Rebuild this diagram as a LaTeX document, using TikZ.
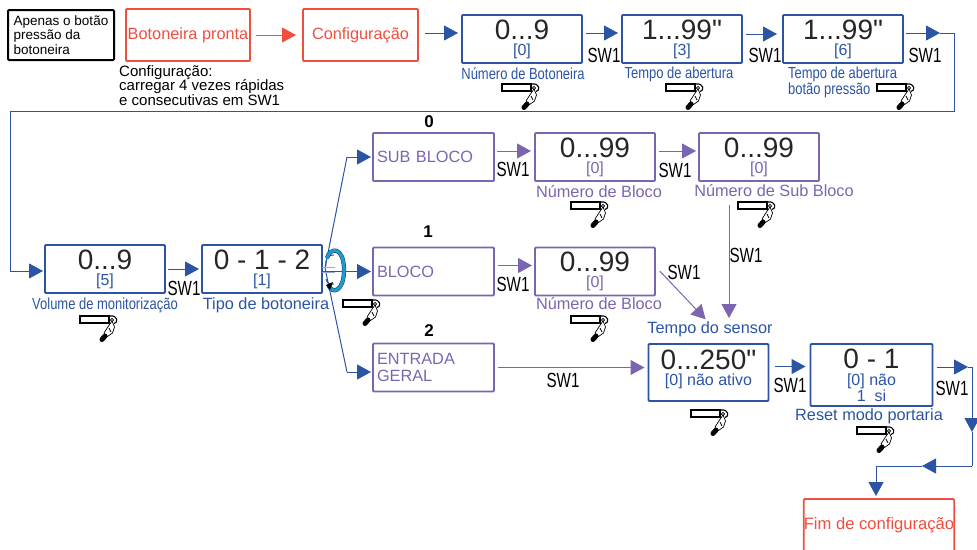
\documentclass[tikz,border=0pt]{standalone}
\usepackage{fontspec}
\setmainfont{Liberation Sans}
\usetikzlibrary{arrows.meta,positioning}

\definecolor{bluec}{HTML}{2B54A5}
\definecolor{redc}{HTML}{F04E3E}
\definecolor{purplec}{HTML}{7C65B0}
\definecolor{cyanc}{HTML}{1C9AD6}

\newcommand{\cond}[1]{\scalebox{0.81}[1]{#1}}
\newcommand{\swtxt}{\scalebox{0.74}[1]{SW1}}
\newcommand{\bignum}[1]{{\fontsize{28}{26}\selectfont\textcolor{black!85}{#1}}}

\tikzset{
  boxbase/.style={draw,rectangle,rounded corners=1pt,line width=1.8pt,outer sep=0pt,inner sep=3pt,align=center},
  bluebox/.style={boxbase,draw=bluec,text=bluec,minimum width=120pt,minimum height=48pt,font=\fontsize{16}{16}\selectfont},
  purplebox/.style={boxbase,draw=purplec,text=purplec,minimum width=120pt,minimum height=48pt,font=\fontsize{16}{16}\selectfont},
  subbox/.style={purplebox,align=left,text width=113pt,inner sep=4pt,font=\fontsize{16.3}{17}\selectfont},
  redbox/.style={boxbase,draw=redc,text=redc,inner sep=0pt,font=\fontsize{16.3}{16.3}\selectfont},
  caption/.style={inner sep=0pt,font=\fontsize{16}{16}\selectfont},
  capwide/.style={inner sep=0pt,font=\fontsize{16.3}{16.3}\selectfont},
  capblue/.style={caption,text=bluec},
  cappurple/.style={capwide,text=purplec},
  sw/.style={inner sep=0pt,font=\fontsize{20.5}{20.5}\selectfont},
  digit/.style={inner sep=0pt,font=\fontsize{17}{17}\bfseries\selectfont},
  flowb/.style={draw=bluec,line width=1pt,-{Triangle[length=14pt,width=15pt]}},
  flowp/.style={draw=purplec,line width=1pt,-{Triangle[length=14pt,width=15pt]}},
  flowr/.style={draw=redc,line width=1pt,-{Triangle[length=14pt,width=15pt]}},
  plainb/.style={draw=bluec,line width=1pt},
  botao/.pic={
    \draw[black,line width=1.1pt,fill=white] (0,0) rectangle (29,7);
    \draw[black,line width=1.1pt] (30,0) .. controls (38,-1) and (38.5,7) .. (34,7.5);
    \draw[black,line width=.7pt,fill=white] (32,5) -- (34.5,11) -- (32.5,17) -- (27.5,20.5) -- (24,17) -- (28.5,10) -- cycle;
    \draw[black,line width=.7pt] (29,12) -- (31,16) (32,4) circle (1.6);
    \draw[black,line width=5pt,line cap=round] (25,20) -- (22,23.5);
  }
}

\begin{document}
\begin{tikzpicture}[x=1pt,y=-1pt]
\useasboundingbox (0,0) rectangle (977,549);
\clip (0,0) rectangle (977,549);

% Top row
\node[boxbase,draw=black,align=left,minimum width=106pt,minimum height=50pt,line width=2pt,inner sep=0pt,font=\fontsize{13.5}{14.2}\selectfont] (apenas) at (61,35) {Apenas o botão\\pressão da\\botoneira\hspace*{32pt}};
\node[redbox,minimum width=124pt,minimum height=52pt] (pronta) at (188,35) {Botoneira pronta};
\node[redbox,minimum width=115pt,minimum height=52pt,right=53pt of pronta] (config) {Configuração};
\node[capwide,align=left,anchor=north west,font=\fontsize{15}{14.7}\selectfont] (nota) at (119,65) {Configuração:\\carregar 4 vezes rápidas\\e consecutivas em SW1};

\node[bluebox] (numbot) at (522,39) {\bignum{0...9}\\{[}0{]}};
\node[bluebox,right=40pt of numbot] (tempo) {\bignum{1...99\textquotedbl}\\{[}3{]}};
\node[bluebox,right=41pt of tempo] (tempob) {\bignum{1...99\textquotedbl}\\{[}6{]}};

\node[capblue] (capnum) at (523,74) {\cond{Número de Botoneira}};
\node[capblue] (captempo) at (679,74) {\cond{Tempo de abertura}};
\node[capblue,align=left,anchor=north west] (captempob) at (788,67) {\cond{Tempo de abertura}\\\cond{botão pressão}};

\draw[flowr,shorten <=6pt,shorten >=7pt] (pronta) -- (config);
\draw[flowb,shorten <=7pt,shorten >=4pt] (config.east |- 0,33) -- (numbot.west |- 0,33);
\draw[flowb,shorten <=4pt,shorten >=4pt] ([yshift=6pt]numbot.east) -- ([yshift=6pt]tempo.west);
\draw[flowb,shorten <=4pt,shorten >=6pt] ([yshift=5pt]tempo.east) -- ([yshift=5pt]tempob.west);

\node[sw] (sw1) at (604,55) {\swtxt};
\node[sw] (sw2) at (765,55) {\swtxt};
\node[sw] (sw3) at (925,55) {\swtxt};

% Second row
\node[bluebox] (volume) at (105,269) {\bignum{0...9}\\{[}5{]}};
\node[bluebox,right=37pt of volume] (tipo) {\bignum{0 - 1 - 2}\\{[}1{]}};
\node[capblue] (capvol) at (105,305) {\cond{Volume de monitorização}};
\node[capwide,text=bluec] (captipo) at (266,305) {Tipo de botoneira};
\node[sw] (sw4) at (184,288) {\swtxt};

\coordinate (c1) at (954,33);
\coordinate (c2) at (954,111);
\coordinate (c3) at (10,111);
\coordinate (c4) at (10,271);
\coordinate (c5) at (940,33);
\draw[flowb,shorten <=3pt] ([yshift=6pt]tempob.east) -- (c5);
\draw[plainb] (c5) -- (c1) -- (c2) -- (c3) -- (c4);
\draw[flowb,shorten >=2pt] (c4) -- (volume.west |- c4);
\draw[flowb,shorten <=3pt,shorten >=3pt] (volume) -- (tipo);

% Branches
\node[subbox] (subbloco) at (433.5,157) {SUB BLOCO};
\node[subbox] (bloco) at (433.5,271.5) {BLOCO};
\node[subbox] (entrada) at (433.5,367.5) {ENTRADA\\GERAL};
\node[digit] (d0) at (429,122) {0};
\node[digit] (d1) at (428,232) {1};
\node[digit] (d2) at (429,331) {2};

\coordinate (b0) at (325,268);
\coordinate (b1) at (347,157);
\coordinate (b2) at (347,372);
\draw[plainb] (b0) -- (b1);
\draw[plainb] (b0) -- (b2);
\draw[flowb,shorten >=2pt] (b1) -- (b1 -| subbloco.west);
\draw[flowb,shorten >=2pt] (b2) -- (b2 -| entrada.west);
\draw[flowb,shorten >=2pt] (tipo.east |- bloco) -- (bloco.west);
\draw[draw=bluec!50,line width=1pt] ([yshift=2pt]tipo.east) -- ++(13,0);
\draw[draw=bluec!50,line width=1pt] ([yshift=-3pt]tipo.east) -- ++(13,0);

% Rotary arrow
\draw[bluec,line width=1pt] (334,255) .. controls (327,255) and (325,260) .. (326,266);
\draw[bluec,line width=1pt] (334,284) .. controls (329,285) and (327,283) .. (326,279);
\draw[black!80,line width=4.2pt] (327,258) .. controls (330,247) and (344,246) .. (344,270) .. controls (344,292) and (332,294) .. (329,286);
\draw[cyanc,line width=3.2pt] (327,258) .. controls (330,247) and (344,246) .. (344,270) .. controls (344,292) and (332,294) .. (329,286);
\fill[black] (326,285) -- (333,282) -- (330,290) -- cycle;

% Sub bloco row
\node[purplebox,right=41pt of subbloco] (nbloco) {\bignum{0...99}\\{[}0{]}};
\node[purplebox,right=44pt of nbloco] (nsub) {\bignum{0...99}\\{[}0{]}};
\node[purplebox,right=41pt of bloco] (nbloco2) {\bignum{0...99}\\{[}0{]}};
\node[cappurple] (capn1) at (599,192) {Número de Bloco};
\node[cappurple] (capn2) at (774,191) {Número de Sub Bloco};
\node[cappurple] (capn3) at (599,304) {Número de Bloco};

\node[sw] (sw5) at (513,169) {\swtxt};
\node[sw] (sw6) at (675,170) {\swtxt};
\node[sw] (sw7) at (513,284) {\swtxt};
\node[sw] (sw8) at (684,272) {\swtxt};
\node[sw] (sw9) at (746,255) {\swtxt};
\node[sw] (sw10) at (563,380) {\swtxt};

\draw[flowp,shorten <=3pt,shorten >=4pt] ([yshift=6pt]subbloco.east) -- ([yshift=6pt]nbloco.west);
\draw[flowp,shorten <=4pt,shorten >=3pt] ([yshift=6pt]nbloco.east) -- ([yshift=6pt]nsub.west);
\draw[flowp,shorten <=4pt,shorten >=3pt] ([yshift=6pt]bloco.east) -- ([yshift=6pt]nbloco2.west);

% Sensor and reset
\node[bluebox,minimum height=57pt,text depth=10pt] (sensor) at (708.5,372.5) {\bignum{0...250\textquotedbl}\\{[}0{]} não ativo};
\node[bluebox,minimum height=62pt,minimum width=122pt,right=42pt of sensor.north east,anchor=north west,align=center] (reset) {\bignum{0 - 1}\\[1pt]{[}0{]} não\\1\ \ si};
\node[capwide,text=bluec] (capsensor) at (710,329) {Tempo do sensor};
\node[capwide,text=bluec] (capreset) at (869,416) {Reset modo portaria};
\node[sw] (sw11) at (790,385) {\swtxt};
\node[sw] (sw12) at (952,388) {\swtxt};

\draw[flowp,shorten <=24pt,shorten >=26pt] ([xshift=20.5pt]sensor.north |- nsub.south) -- ([xshift=20.5pt]sensor.north);
\draw[flowp,shorten <=7pt,shorten >=34pt] ([yshift=5.5pt]nbloco2.east) -- ([xshift=20.5pt]sensor.north);
\draw[flowp,shorten <=4pt,shorten >=4pt] (entrada.east) -- (sensor.west |- entrada);
\coordinate (r0) at (812,366.5);
\draw[flowb,shorten <=6pt,shorten >=5pt] (sensor.east |- r0) -- (reset.west |- r0);

% End of configuration
\node[redbox,minimum width=150pt,minimum height=70pt,text depth=22pt,font=\fontsize{16.6}{16.6}\selectfont] (fim) at (879,534) {Fim de configuração};
\coordinate (e1) at (968,367);
\coordinate (e2) at (972,367);
\coordinate (e3) at (972,432);
\coordinate (e4) at (972,466);
\coordinate (e5) at (922,466);
\coordinate (e6) at (876,466);
\draw[flowb,shorten <=4pt] (reset.east |- e1) -- (e1);
\draw[plainb] (e1) -- (e2);
\draw[flowb] (e2) -- (e3);
\draw[plainb] (e3) -- (e4);
\draw[flowb] (e4) -- (e5);
\draw[plainb] (e5) -- (e6);
\draw[flowb,shorten >=3pt] (e6) -- (e6 |- fim.north);

% Button icons
\pic at (502,84) {botao};
\pic at (666,84) {botao};
\pic at (877,84) {botao};
\pic at (80,316) {botao};
\pic at (343,300) {botao};
\pic at (571,202) {botao};
\pic at (738,202) {botao};
\pic at (571,316) {botao};
\pic at (691,410) {botao};
\pic at (857,427) {botao};
\end{tikzpicture}
\end{document}
